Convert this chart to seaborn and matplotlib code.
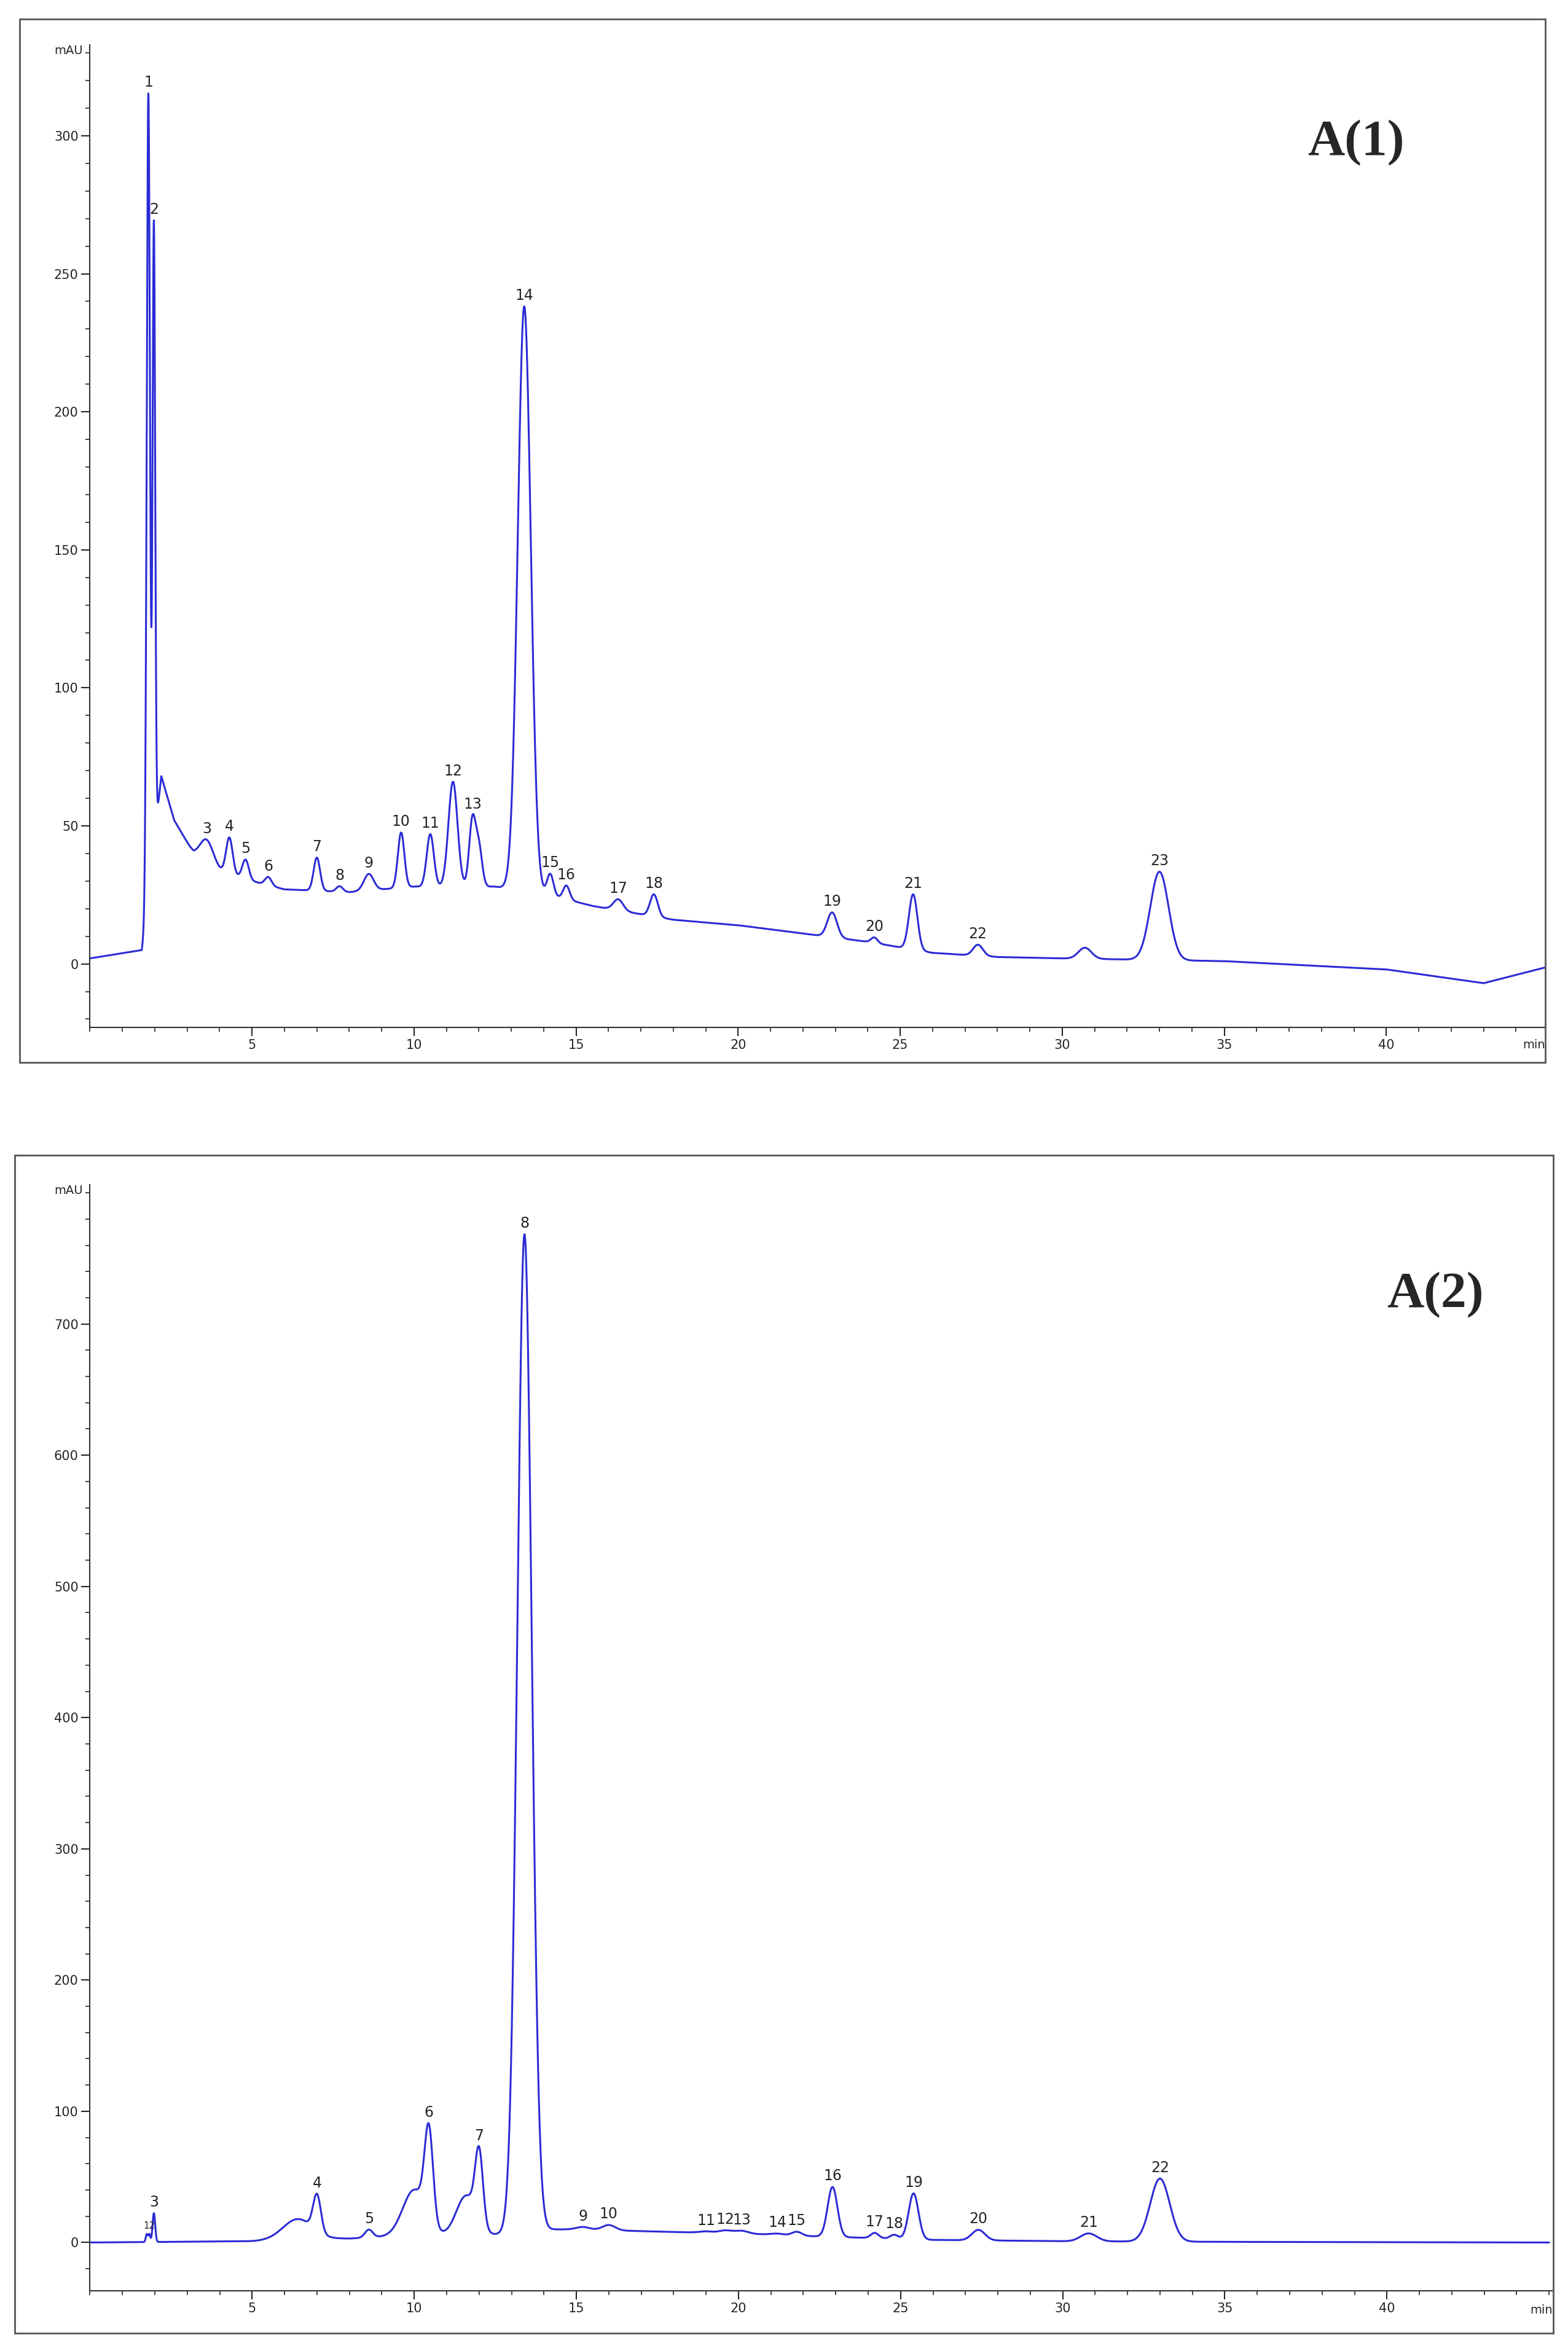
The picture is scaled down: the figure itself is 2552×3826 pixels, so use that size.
import numpy as np
import matplotlib
matplotlib.use("Agg")
import matplotlib.pyplot as plt
import seaborn as sns
from matplotlib.patches import Rectangle
from matplotlib.ticker import MultipleLocator, FixedLocator

sns.set_theme(style="white")
plt.rcParams['font.family'] = ['DejaVu Sans']

# ---- Panel A(1) data ----
a1_base_t = [0, 1.6, 1.75, 2.2, 2.6, 3.2, 4.0, 5.0, 6.0, 8.0, 10.0, 12.5, 14.5, 15.5, 17.0, 18.0, 20.0, 22.0, 24.0, 26.0, 28.0, 30.0, 35.0, 40.0, 43.0, 45.0]
a1_base_v = [2, 5, 20, 68, 52, 40, 34, 30, 27, 26, 28, 28, 24, 21, 18, 16, 14, 11, 8, 4, 2.5, 2, 1, -2, -7, -1]
a1_peak_t = [1.8, 1.97, 3.6, 4.3, 4.8, 5.5, 7.0, 7.7, 8.6, 9.6, 10.5, 11.2, 11.8, 12.0, 13.4, 14.2, 14.7, 16.3, 17.4, 22.9, 24.2, 25.4, 27.4, 30.7, 33.0]
a1_peak_h = [290, 225, 8, 13, 7, 3, 12, 2, 6, 20, 19, 38, 24, 14, 212, 8, 5, 4, 8, 9, 2, 20, 4, 4, 32]
a1_peak_w = [0.05, 0.04, 0.2, 0.1, 0.1, 0.1, 0.1, 0.1, 0.15, 0.1, 0.11, 0.14, 0.1, 0.1, 0.2, 0.1, 0.1, 0.15, 0.12, 0.15, 0.1, 0.13, 0.15, 0.2, 0.28]
a1_labels = ["1", "2", "3", "4", "5", "6", "7", "8", "9", "10", "11", "12", "13", "", "14", "15", "16", "17", "18", "19", "20", "21", "22", "", "23"]

# ---- Panel A(2) data ----
a2_base_t = [0, 5.0, 6.5, 8.0, 9.5, 12.5, 14.0, 15.0, 18.0, 20.0, 22.0, 26.0, 30.0, 35.0, 45.0]
a2_base_v = [0, 1, 3, 3, 5, 6, 10, 10, 8, 7, 5, 2, 1, 0.5, 0]
a2_peak_t = [1.75, 1.83, 1.97, 6.4, 7.0, 8.6, 10.0, 10.45, 11.6, 12.0, 13.4, 15.2, 16.0, 19.0, 19.6, 20.1, 21.2, 21.8, 22.9, 24.2, 24.8, 25.4, 27.4, 30.8, 33.0]
a2_peak_h = [6, 6, 22, 15, 28, 6, 35, 70, 30, 55, 760, 2, 4, 1, 2, 2, 1, 3, 38, 4, 3, 35, 8, 6, 48]
a2_peak_w = [0.03, 0.03, 0.04, 0.45, 0.12, 0.12, 0.35, 0.13, 0.3, 0.12, 0.22, 0.2, 0.2, 0.2, 0.2, 0.2, 0.2, 0.15, 0.15, 0.12, 0.12, 0.15, 0.2, 0.25, 0.3]
a2_labels = ["", "12", "3", "", "4", "5", "", "6", "", "7", "8", "9", "10", "11", "12", "13", "14", "15", "16", "17", "18", "19", "20", "21", "22"]

t = np.linspace(0, 45, 9001)

def trace(bt, bv, pt, ph, pw):
    y = np.interp(t, bt, bv)
    for c, h, w in zip(pt, ph, pw):
        y = y + h * np.exp(-0.5 * ((t - c) / w) ** 2)
    return y

fig = plt.figure(figsize=(25.52, 38.26), dpi=100)
BLUE = "#2b2bd6"

def panel(rect, box, bt, bv, pt, ph, pw, labels, ylim, yticks, ymin, title, tpos, lab_off, xmax):
    fig.patches.append(Rectangle(box[:2], box[2], box[3], transform=fig.transFigure,
                                 fill=False, edgecolor="#555555", lw=2))
    ax = fig.add_axes(rect)
    y = trace(bt, bv, pt, ph, pw)
    sns.lineplot(x=t, y=y, ax=ax, color=BLUE, lw=2.2)
    ax.set_xlim(0, xmax)
    ax.set_ylim(*ylim)
    ax.set_xticks([5, 10, 15, 20, 25, 30, 35, 40])
    ax.xaxis.set_minor_locator(MultipleLocator(1))
    ax.yaxis.set_major_locator(FixedLocator(yticks))
    ax.yaxis.set_minor_locator(MultipleLocator(ymin))
    ax.tick_params(which="major", length=10, width=1.5, labelsize=15, direction="out", left=True, bottom=True)
    ax.tick_params(which="minor", length=5, width=1.2, direction="out", left=True, bottom=True)
    for s in ["top", "right"]:
        ax.spines[s].set_visible(False)
    for s in ["left", "bottom"]:
        ax.spines[s].set_color("#333333")
        ax.spines[s].set_linewidth(1.5)
    ax.text(-0.005, 1.0, "mAU", transform=ax.transAxes, ha="right", va="top", fontsize=14)
    ax.text(1.0, -0.012, "min", transform=ax.transAxes, ha="right", va="top", fontsize=14)
    for c, lab in zip(pt, labels):
        if lab:
            yv = np.interp(c, t, y)
            fs = 11 if (lab == "12" and c < 3) else 17
            ax.annotate(lab, (c, yv), xytext=(0, lab_off), textcoords="offset points",
                        ha="center", va="bottom", fontsize=fs)
    ax.text(tpos[0], tpos[1], title, transform=ax.transAxes, fontsize=60,
            fontweight="bold", family="Liberation Serif", ha="center", va="center")
    return ax

panel([0.0574, 0.563, 0.928, 0.418], [0.0124, 0.548, 0.973, 0.444],
      a1_base_t, a1_base_v, a1_peak_t, a1_peak_h, a1_peak_w, a1_labels,
      (-23, 333), [0, 50, 100, 150, 200, 250, 300], 10, "A(1)", (0.87, 0.9), 4, 44.9)
panel([0.0574, 0.0255, 0.9326, 0.4705], [0.0096, 0.0077, 0.981, 0.501],
      a2_base_t, a2_base_v, a2_peak_t, a2_peak_h, a2_peak_w, a2_labels,
      (-37, 806), [0, 100, 200, 300, 400, 500, 600, 700], 20, "A(2)", (0.92, 0.9), 4, 45.1)

fig.savefig("out.png", dpi=100)
